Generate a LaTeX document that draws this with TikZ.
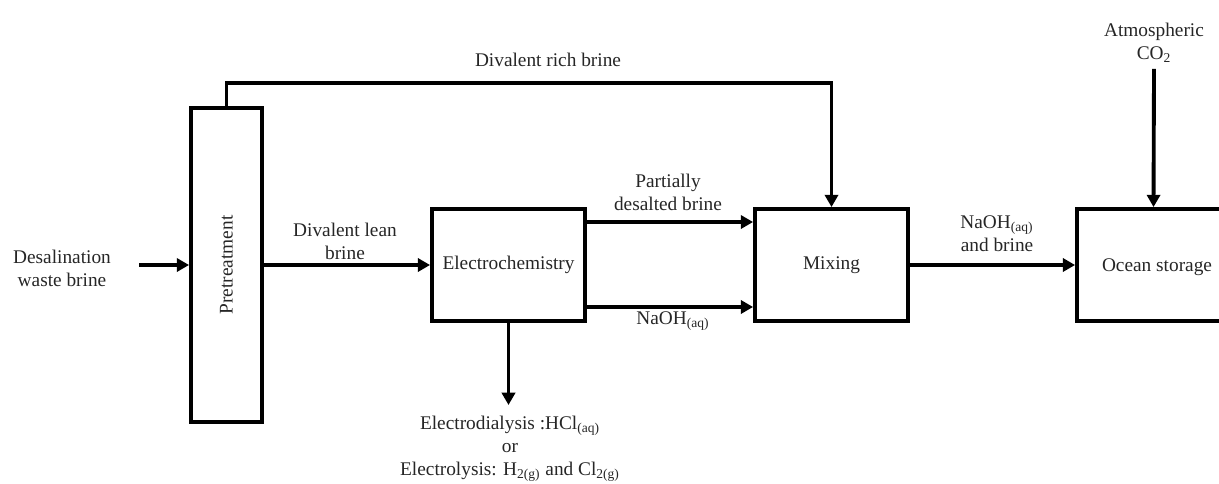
\documentclass[tikz,border=0pt]{standalone}
\usepackage{fontspec}
\setmainfont{Liberation Serif}
\usetikzlibrary{arrows.meta}
\tikzset{
    block/.style={draw, line width=2.2pt, minimum width=3.06cm, minimum height=2.24cm, inner sep=0},
    flow/.style={line width=2.2pt, -{Triangle[length=7pt,width=7.5pt]}},
    txt/.style={align=center, inner sep=0, text=black!85, font=\fontsize{11}{13}\selectfont},
}
\begin{document}
\begin{tikzpicture}[x=0.02cm, y=-0.02cm]
    \clip (0,0) rectangle (1219,483);
    % units
    \node[block, minimum width=1.42cm, minimum height=6.28cm] (pre) at (226.5,265) {};
    \node[txt, rotate=90] (pretxt) at (pre.center) {Pretreatment};
    \node[block] (ech) at (508.5,265) {};
    \node[txt] (echtxt) at (ech.center) {Electrochemistry};
    \node[block] (mix) at (831.5,265) {};
    \node[txt] (mixtxt) at (mix.center) {Mixing};
    \node[block] (ocean) at (1153.5,265) {};
    \node[txt] (oceantxt) at (1157,267) {Ocean storage};
    % labels
    \node[txt] (feed) at (62,268) {Desalination\\waste brine};
    \node[txt] (lean) at (345,241) {Divalent lean\\brine};
    \node[txt] (rich) at (548,60) {Divalent rich brine};
    \node[txt] (partial) at (668,192) {Partially\\desalted brine};
    \node[txt] (naoh) at (673,321) {NaOH\textsubscript{(aq)}};
    \node[txt] (byprod) at (510,449) {Electrodialysis :HCl\textsubscript{(aq)}\\or\\Electrolysis: H\textsubscript{2(g)} and Cl\textsubscript{2(g)}};
    \node[txt] (mixed) at (997,234) {NaOH\textsubscript{(aq)}\\and brine};
    \node[txt] (co2) at (1154,43) {Atmospheric\\CO\textsubscript{2}};
    \coordinate (feedin) at (139,265);
    \coordinate (top) at (831.5,83);
    \coordinate (out) at (508.5,405);
    % streams
    \draw[flow] (feedin) -- (pre.west);
    \draw[flow] (pre.east) -- (ech.west);
    \draw[flow] (pre.north) |- (top) -- (mix.north);
    \draw[flow] ([yshift=0.86cm]ech.east) -- ([yshift=0.86cm]mix.west);
    \draw[flow] ([yshift=-0.84cm]ech.east) -- ([yshift=-0.84cm]mix.west);
    \draw[flow] (ech.south) -- (out);
    \draw[flow] (mix.east) -- (ocean.west);
    \draw[flow] ([yshift=-0.12cm]co2.south) -- (ocean.north);
\end{tikzpicture}
\end{document}
